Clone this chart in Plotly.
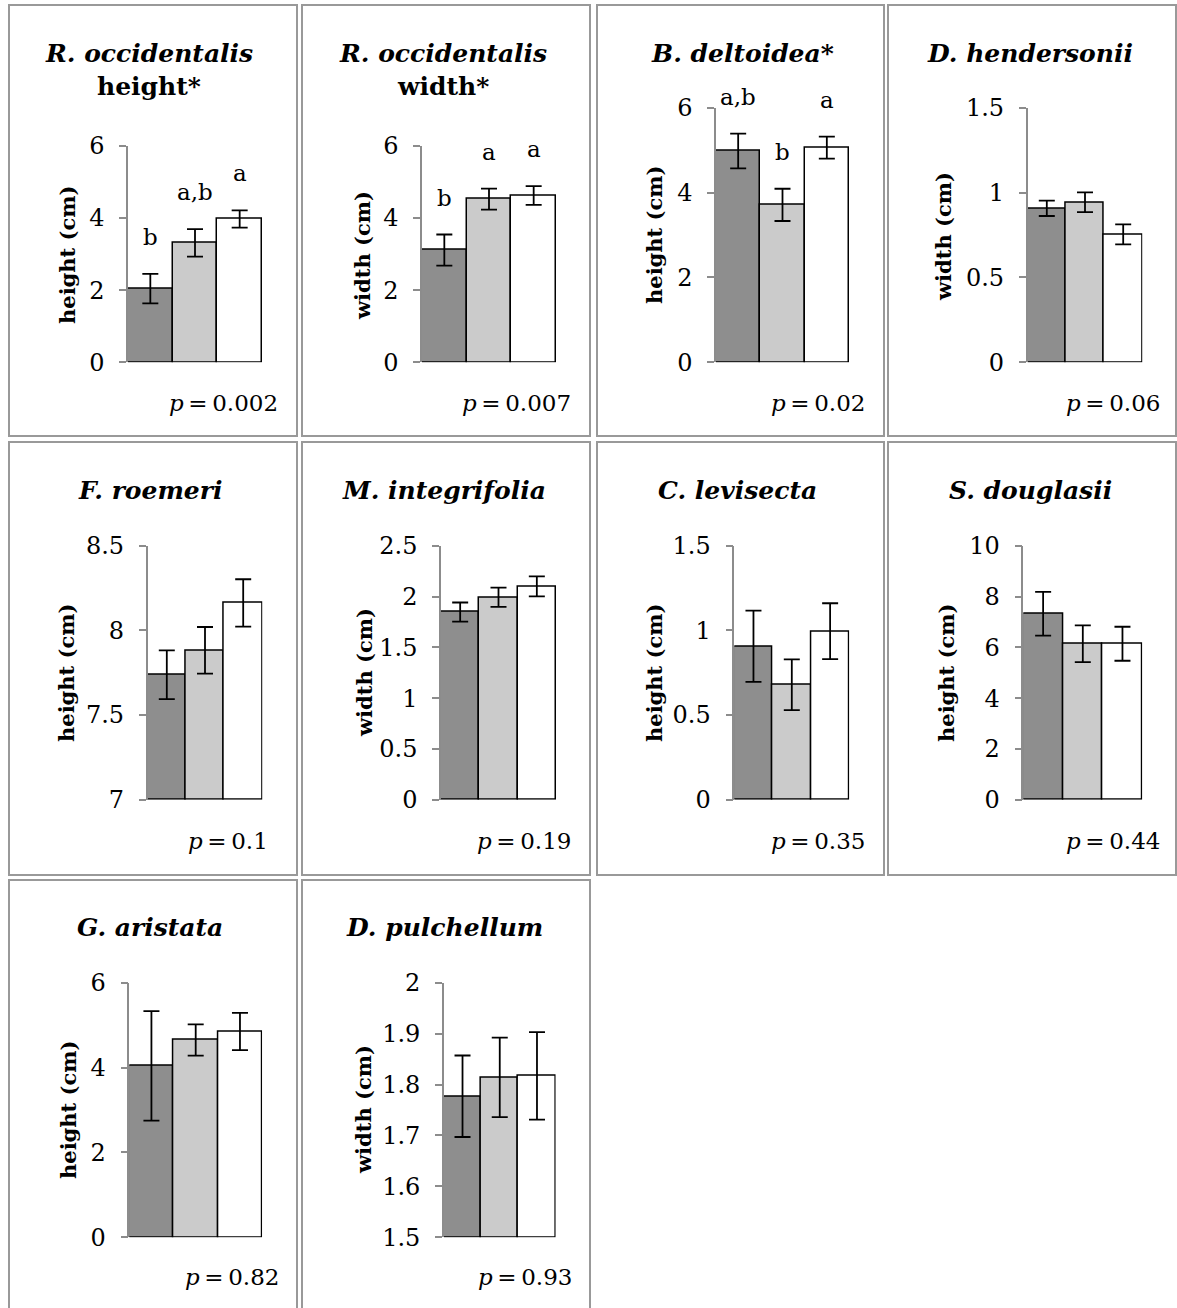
import plotly.graph_objects as go

W, H = 1177, 1308

# ---------------- data ----------------
species = ["R. occidentalis", "R. occidentalis", "B. deltoidea", "D. hendersonii",
           "F. roemeri", "M. integrifolia", "C. levisecta", "S. douglasii",
           "G. aristata", "D. pulchellum"]
title_suffix = ["height*", "width*", "*", "", "", "", "", "", "", ""]
y_labels = ["height (cm)", "width (cm)", "height (cm)", "width (cm)",
            "height (cm)", "width (cm)", "height (cm)", "height (cm)",
            "height (cm)", "width (cm)"]
means = [
    [2.04, 3.31, 3.97],
    [3.11, 4.52, 4.62],
    [4.98, 3.71, 5.06],
    [0.907, 0.943, 0.754],
    [7.738, 7.882, 8.162],
    [1.847, 1.992, 2.100],
    [0.906, 0.679, 0.995],
    [7.32, 6.14, 6.14],
    [4.04, 4.65, 4.85],
    [1.777, 1.814, 1.817],
]
errors = [
    [0.41, 0.38, 0.24],
    [0.43, 0.29, 0.26],
    [0.41, 0.38, 0.26],
    [0.045, 0.058, 0.059],
    [0.144, 0.138, 0.140],
    [0.094, 0.095, 0.098],
    [0.21, 0.15, 0.165],
    [0.86, 0.72, 0.67],
    [1.29, 0.37, 0.44],
    [0.080, 0.078, 0.086],
]
letters = [
    ["b", "a,b", "a"],
    ["b", "a", "a"],
    ["a,b", "b", "a"],
    None, None, None, None, None, None, None,
]
p_values = ["0.002", "0.007", "0.02", "0.06", "0.1", "0.19", "0.35", "0.44", "0.82", "0.93"]
y_ranges = [[0, 6], [0, 6], [0, 6], [0, 1.5], [7, 8.5], [0, 2.5], [0, 1.5], [0, 10], [0, 6], [1.5, 2]]
y_dticks = [2, 2, 2, 0.5, 0.5, 0.5, 0.5, 2, 2, 0.1]
treatments = [0, 1, 2]
bar_colors = ["#8e8e8e", "#cbcbcb", "#ffffff"]

# ---------------- layout geometry (pixels) ----------------
# plot area: x0, x1, y_top, y_bottom
plot_box = [
    (128, 262, 145.7, 362.3),
    (422, 556, 145.7, 362.3),
    (716, 849, 107.7, 362.3),
    (1027.7, 1142.3, 107.7, 362.3),
    (147.7, 262.3, 545.7, 799.7),
    (441, 556, 545.7, 799.7),
    (734.3, 849.3, 545.7, 799.7),
    (1023.3, 1142.3, 545.7, 799.7),
    (129.3, 262.1, 982.7, 1237.3),
    (443.9, 555.6, 982.7, 1237.3),
]
title_pos = [(149, 53), (443, 53), (742, 53), (1030, 53),
             (150, 490), (443.5, 490), (737.5, 490), (1030, 490),
             (150, 927), (444, 927)]
ylab_pos = [(67, 255), (363, 256), (654, 235), (944, 237),
            (66, 673), (364, 673), (654, 673), (946, 673),
            (68, 1110), (363, 1110)]
p_pos = [(280, 403), (573, 403), (867, 403), (1162, 403),
         (270, 841), (573, 841), (867, 841), (1162, 841),
         (281, 1277), (574, 1277)]
col_x = [(9, 297), (302, 590), (597, 884), (888, 1176)]
row_y = [(5, 436), (442, 875), (880, 1330)]

FONT = "DejaVu Serif"


def px(x):
    return x / W


def py(y):
    return 1 - y / H


fig = go.Figure()
annotations = []
shapes = []

for i in range(10):
    n = i + 1
    xa = "x" if n == 1 else f"x{n}"
    ya = "y" if n == 1 else f"y{n}"
    x0, x1, yt, yb = plot_box[i]

    fig.add_trace(go.Bar(
        x=treatments, y=[m - y_ranges[i][0] for m in means[i]],
        base=y_ranges[i][0],
        width=1,
        marker=dict(color=bar_colors, line=dict(color="black", width=1.5)),
        error_y=dict(type="data", array=errors[i], color="black", thickness=1.8, width=8),
        xaxis=xa, yaxis=ya, showlegend=False, hoverinfo="skip",
    ))

    fig.layout[f"xaxis{'' if n == 1 else n}"] = dict(
        domain=[px(x0), px(x1)], range=[-0.5, 2.5], anchor=ya,
        showline=False, showticklabels=False, ticks="", showgrid=False, zeroline=False,
        fixedrange=True, automargin=False,
    )
    fig.layout[f"yaxis{'' if n == 1 else n}"] = dict(
        domain=[py(yb), py(yt)], range=y_ranges[i], anchor=xa,
        dtick=y_dticks[i], tick0=y_ranges[i][0],
        showline=True, linecolor="#8c8c8c", linewidth=1.5,
        ticks="outside", ticklen=7, tickwidth=1.5, tickcolor="#8c8c8c",
        ticklabelstandoff=10, automargin=False,
        tickfont=dict(family=FONT, size=24, color="black"),
        showgrid=False, zeroline=False, fixedrange=True,
    )

    # panel title
    tx, ty = title_pos[i]
    if n in (1, 2):
        annotations.append(dict(x=px(tx), y=py(ty), xref="paper", yref="paper",
                                text=f"<b><i>{species[i]}</i></b>", showarrow=False,
                                font=dict(family=FONT, size=25, color="black"),
                                xanchor="center", yanchor="middle"))
        annotations.append(dict(x=px(tx), y=py(ty + 33), xref="paper", yref="paper",
                                text=f"<b>{title_suffix[i]}</b>", showarrow=False,
                                font=dict(family=FONT, size=25, color="black"),
                                xanchor="center", yanchor="middle"))
    else:
        annotations.append(dict(x=px(tx), y=py(ty), xref="paper", yref="paper",
                                text=f"<b><i>{species[i]}</i>{title_suffix[i]}</b>",
                                showarrow=False,
                                font=dict(family=FONT, size=25, color="black"),
                                xanchor="center", yanchor="middle"))

    # y axis title
    lx, ly = ylab_pos[i]
    annotations.append(dict(x=px(lx), y=py(ly), xref="paper", yref="paper",
                            text=f"<b>{y_labels[i]}</b>", showarrow=False, textangle=-90,
                            font=dict(family=FONT, size=21, color="black"),
                            xanchor="center", yanchor="middle"))

    # p value
    qx, qy = p_pos[i]
    annotations.append(dict(x=px(qx), y=py(qy), xref="paper", yref="paper",
                            text=f"<i>p</i>\u2009=\u2009{p_values[i]}", showarrow=False,
                            font=dict(family=FONT, size=23, color="black"),
                            xanchor="right", yanchor="middle"))

    # significance letters
    if letters[i]:
        for t, m, e, lab in zip(treatments, means[i], errors[i], letters[i]):
            annotations.append(dict(x=t, y=m + e, xref=xa, yref=ya, text=lab,
                                    showarrow=False, yanchor="bottom", xanchor="center",
                                    yshift=22,
                                    font=dict(family=FONT, size=23, color="black")))

    # panel border
    cx0, cx1 = col_x[i % 4]
    ry0, ry1 = row_y[i // 4]
    shapes.append(dict(type="rect", xref="paper", yref="paper",
                       x0=px(cx0), x1=px(cx1), y0=py(ry1), y1=py(ry0),
                       line=dict(color="#999999", width=2), fillcolor="rgba(0,0,0,0)",
                       layer="below"))

fig.update_layout(
    width=W, height=H,
    margin=dict(l=0, r=0, t=0, b=0, pad=0, autoexpand=False),
    paper_bgcolor="white", plot_bgcolor="white",
    annotations=annotations, shapes=shapes,
    bargap=0, showlegend=False,
)

post = (
    "document.documentElement.style.margin='0';"
    "document.documentElement.style.overflow='hidden';"
    "document.body.style.margin='0';"
    "document.body.style.overflow='hidden';"
    "var d=document.getElementById('{plot_id}');"
    "d.style.position='fixed';d.style.top='0px';d.style.left='0px';"
)

fig.write_html("out.html", config={"displayModeBar": False}, post_script=post)
